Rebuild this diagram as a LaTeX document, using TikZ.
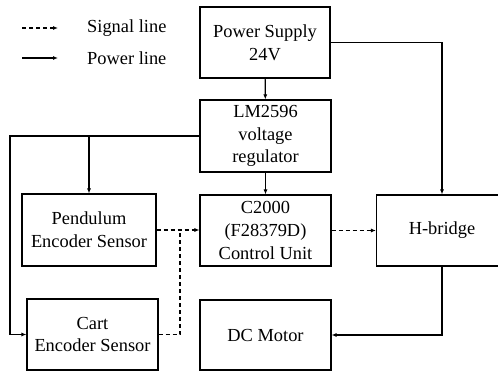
\documentclass[tikz,border=0pt]{standalone}
\usepackage{fontspec}
\setmainfont{Liberation Serif}
\newfontfamily\diagfont{Liberation Serif}
\usetikzlibrary{arrows.meta,positioning}

\tikzset{
  block/.style={draw, line width=1.1pt, align=center, inner sep=0pt,
    minimum width=131pt, minimum height=71pt,
    font=\diagfont\fontsize{18.4}{22.7}\selectfont},
  power/.style={-{Latex[length=5pt,width=4pt]}, line width=1.1pt},
  signal/.style={power, dash pattern=on 4pt off 3pt},
  legendtext/.style={anchor=west, inner sep=0pt, font=\diagfont\fontsize{18.4}{22.7}\selectfont}
}

\begin{document}
\begin{tikzpicture}[x=1pt, y=-1pt]
    \useasboundingbox (0,0) rectangle (498,371);
    \clip (0,0) rectangle (498,371);
    % Legend
    \coordinate (sigA) at (22,28);
    \coordinate (sigB) at (58,28);
    \coordinate (powA) at (22,58);
    \coordinate (powB) at (58,58);
    \draw[signal] (sigA) -- (sigB);
    \draw[power] (powA) -- (powB);
    \node[legendtext] (sigtext) at (87,28) {Signal line};
    \node[legendtext] (powtext) at (87,58) {Power line};
    % Blocks
    \node[block, minimum width=130pt] (psu) at (265,42.5) {Power Supply\\24V};
    \node[block, minimum height=72pt] (reg) at (265.5,136) {LM2596\\voltage\\regulator};
    \node[block] (ctrl) at (265.5,230.5) {C2000\\(F28379D)\\Control Unit};
    \node[block] (hbr) at (442,230.5) {H-bridge};
    \node[block, minimum height=70pt] (motor) at (265.5,335) {DC Motor};
    \node[block, minimum width=134pt, minimum height=72pt] (pend) at (89,230) {Pendulum\\Encoder Sensor};
    \node[block] (cart) at (92.5,334.5) {Cart\\Encoder Sensor};
    % Power lines
    \coordinate (corner) at (10,136);
    \coordinate (branch) at (89,136);
    \draw[power] (psu) -- (reg);
    \draw[power] (psu.east) -| (hbr.north);
    \draw[power] (reg) -- (ctrl);
    \draw[power] (reg.west) -- (corner) |- (cart.west);
    \draw[power] (branch) -- (pend.north);
    \draw[power] (hbr.south) |- (motor.east);
    % Signal lines
    \coordinate (join) at (180,230);
    \draw[signal] (pend.east) -- (ctrl.west |- pend.east);
    \draw[dash pattern=on 4pt off 3pt, line width=1.1pt] (cart.east) -| (join);
    \draw[signal] (ctrl) -- (hbr);
\end{tikzpicture}
\end{document}
